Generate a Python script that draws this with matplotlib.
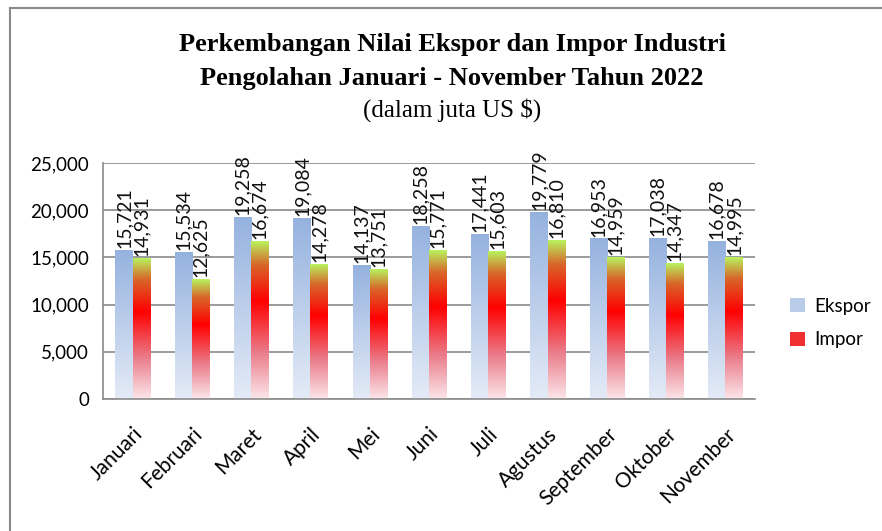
import numpy as np
import matplotlib
matplotlib.use("Agg")
import matplotlib.pyplot as plt
from matplotlib.colors import LinearSegmentedColormap
from matplotlib.patches import Patch
from matplotlib.ticker import FuncFormatter

# Data (juta US $)
bulan = ["Januari", "Februari", "Maret", "April", "Mei", "Juni", "Juli",
         "Agustus", "September", "Oktober", "November"]
ekspor = [15721, 15534, 19258, 19084, 14137, 18258, 17441, 19779, 16953, 17038, 16678]
impor = [14931, 12625, 16674, 14278, 13751, 15771, 15603, 16810, 14959, 14347, 14995]

# gradien warna batang (bawah -> atas)
cmap_ekspor = LinearSegmentedColormap.from_list(
    "eks", [(0.0, "#e4ebf7"), (1.0, "#95b2df")])
cmap_impor = LinearSegmentedColormap.from_list(
    "imp", [(0.0, "#fbe6ea"), (0.3, "#ea7a88"), (0.62, "#ff0000"),
            (0.85, "#d8662a"), (1.0, "#b8f25e")])

plt.rcParams["font.family"] = ["Lato", "DejaVu Sans"]

fig = plt.figure(figsize=(8.82, 5.31), dpi=100)
ax = fig.add_axes([103 / 882, 1 - 399 / 531, (755 - 103) / 882, (399 - 163) / 531])

x = np.arange(len(bulan))
lebar = 0.29
grad = np.linspace(0, 1, 256).reshape(-1, 1)


def gambar_batang(xs, vals, cmap):
    for xi, v in zip(xs, vals):
        ax.imshow(grad, extent=(xi - lebar / 2, xi + lebar / 2, 0, v),
                  origin="lower", cmap=cmap, aspect="auto", zorder=2,
                  interpolation="bicubic")
        ax.text(xi, v + 250, f"{v:,}", rotation=90, ha="center", va="bottom",
                fontsize=14, color="#111111", zorder=3)


gambar_batang(x - lebar / 2, ekspor, cmap_ekspor)
gambar_batang(x + lebar / 2, impor, cmap_impor)

ax.set_xlim(-0.5, len(bulan) - 0.5)
ax.set_ylim(0, 25000)
ax.set_yticks(range(0, 25001, 5000))
ax.yaxis.set_major_formatter(FuncFormatter(lambda v, p: f"{int(v):,}"))
ax.set_axisbelow(True)
ax.grid(axis="y", color="#8a8a8a", linewidth=1.2)
ax.tick_params(axis="y", length=0, labelsize=13.5, pad=10)
ax.tick_params(axis="x", length=0, labelsize=15, pad=18)
ax.set_xticks(x)
ax.set_xticklabels(bulan, rotation=45, ha="right", rotation_mode="anchor")
for sisi in ["top", "right"]:
    ax.spines[sisi].set_visible(False)
for sisi in ["left", "bottom"]:
    ax.spines[sisi].set_color("#8a8a8a")
    ax.spines[sisi].set_linewidth(1.2)

# judul
xt = 452 / 882
fig.text(xt, 1 - 45 / 531, "Perkembangan Nilai Ekspor dan Impor Industri",
         ha="center", va="center", fontsize=19, fontweight="bold",
         family="Liberation Serif")
fig.text(xt, 1 - 78 / 531, "Pengolahan Januari - November Tahun 2022",
         ha="center", va="center", fontsize=19, fontweight="bold",
         family="Liberation Serif")
fig.text(xt, 1 - 110 / 531, "(dalam juta US $)",
         ha="center", va="center", fontsize=18, family="Liberation Serif")

# legenda
handles = [Patch(facecolor="#b8cbe9", label="Ekspor"),
           Patch(facecolor="#f03030", label="Impor")]
fig.legend(handles=handles, loc="center left",
           bbox_to_anchor=(773 / 882, 1 - 323 / 531), frameon=False,
           fontsize=13.5, handlelength=0.8, handleheight=0.8,
           labelspacing=0.9, handletextpad=0.5)

# bingkai
fig.add_artist(plt.Line2D([10 / 882, 10 / 882], [0, 1 - 8 / 531],
                          transform=fig.transFigure, color="#8a8a8a", lw=1.5))
fig.add_artist(plt.Line2D([10 / 882, 1], [1 - 8 / 531, 1 - 8 / 531],
                          transform=fig.transFigure, color="#8a8a8a", lw=1.5))

fig.savefig("out.png", dpi=100)
